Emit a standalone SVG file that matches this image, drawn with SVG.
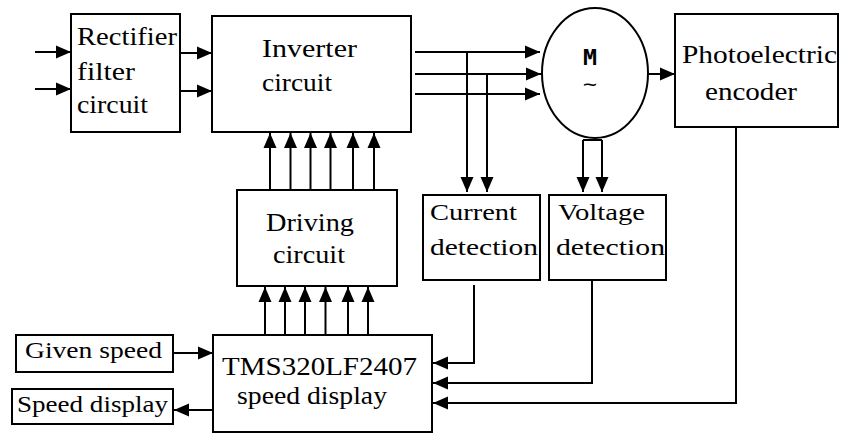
<svg xmlns="http://www.w3.org/2000/svg" width="841" height="434" viewBox="0 0 841 434">
<style>
.box{fill:#fff;stroke:#000;stroke-width:2}
.ln{fill:none;stroke:#000;stroke-width:2}
.t{font-family:"Liberation Serif","Times New Roman",serif;fill:#000;font-size:25px}
.s{font-size:23px}
</style>
<defs>
<marker id="ah" markerUnits="userSpaceOnUse" markerWidth="16" markerHeight="16" viewBox="0 0 16 16" refX="15" refY="8" orient="auto">
<path d="M0,1.5 L15,8 L0,14.5 z" fill="#000"/>
</marker>
</defs>
<rect width="841" height="434" fill="#fff"/>
<g id="connectors" class="ln" marker-end="url(#ah)">
<path d="M35,52 H71"/>
<path d="M35,89 H71"/>
<path d="M180,53 H212"/>
<path d="M180,91 H212"/>
<path d="M415,52 H540"/>
<path d="M415,74 H541"/>
<path d="M415,94 H540"/>
<path d="M467,52 V192"/>
<path d="M487,74 V192"/>
<path d="M583,140 V192"/>
<path d="M602,140 V192"/>
<path d="M583,140 H602" marker-end="none"/>
<path d="M649,74 H675"/>
<path d="M270,190 V133"/>
<path d="M290.5,190 V133"/>
<path d="M310.5,190 V133"/>
<path d="M330.5,190 V133"/>
<path d="M353,190 V133"/>
<path d="M374,190 V133"/>
<path d="M265,335 V287"/>
<path d="M285,335 V287"/>
<path d="M305,335 V287"/>
<path d="M325.5,335 V287"/>
<path d="M348,335 V287"/>
<path d="M368,335 V287"/>
<path d="M474,285 V363 H433"/>
<path d="M592,280 V383 H433"/>
<path d="M736,127 V403 H433"/>
<path d="M173,353 H213"/>
<path d="M213,410 H174"/>
</g>
<g id="rectifier">
<rect class="box" x="71" y="14" width="109" height="118"/>
<text class="t" x="77" y="45" textLength="100" lengthAdjust="spacingAndGlyphs">Rectifier</text>
<text class="t" x="77" y="80" textLength="58" lengthAdjust="spacingAndGlyphs">filter</text>
<text class="t" x="77" y="113" textLength="71" lengthAdjust="spacingAndGlyphs">circuit</text>
</g>
<g id="inverter">
<rect class="box" x="212" y="16" width="199" height="116"/>
<text class="t" x="262" y="57" textLength="95" lengthAdjust="spacingAndGlyphs">Inverter</text>
<text class="t" x="262" y="91" textLength="70" lengthAdjust="spacingAndGlyphs">circuit</text>
</g>
<g id="motor">
<ellipse cx="595" cy="73" rx="53" ry="65" fill="#fff" stroke="#000" stroke-width="2"/>
<text x="583" y="65" font-family="DejaVu Sans Mono,monospace" font-weight="bold" font-size="22" textLength="14" lengthAdjust="spacingAndGlyphs">M</text>
<text x="583" y="91" font-family="DejaVu Sans Mono,monospace" font-size="20" textLength="14" lengthAdjust="spacingAndGlyphs">~</text>
</g>
<g id="encoder">
<rect class="box" x="675" y="14" width="163" height="113"/>
<text class="t" x="682" y="63" textLength="155" lengthAdjust="spacingAndGlyphs">Photoelectric</text>
<text class="t" x="705" y="100" textLength="92" lengthAdjust="spacingAndGlyphs">encoder</text>
</g>
<g id="driving">
<rect class="box" x="237" y="190" width="160" height="96"/>
<text class="t" x="266" y="231" textLength="88" lengthAdjust="spacingAndGlyphs">Driving</text>
<text class="t" x="273" y="263" textLength="72" lengthAdjust="spacingAndGlyphs">circuit</text>
</g>
<g id="current">
<rect class="box" x="423" y="195" width="117" height="85"/>
<text class="t s" x="430" y="220" textLength="87" lengthAdjust="spacingAndGlyphs">Current</text>
<text class="t s" x="430" y="255" textLength="108" lengthAdjust="spacingAndGlyphs">detection</text>
</g>
<g id="voltage">
<rect class="box" x="549" y="195" width="117" height="85"/>
<text class="t s" x="558" y="220" textLength="87" lengthAdjust="spacingAndGlyphs">Voltage</text>
<text class="t s" x="556" y="255" textLength="109" lengthAdjust="spacingAndGlyphs">detection</text>
</g>
<g id="tms">
<rect class="box" x="213" y="335" width="219" height="97"/>
<text class="t" x="222" y="375" textLength="195" lengthAdjust="spacingAndGlyphs">TMS320LF2407</text>
<text class="t" x="237" y="404" textLength="150" lengthAdjust="spacingAndGlyphs">speed display</text>
</g>
<g id="given">
<rect class="box" x="16" y="335" width="157" height="37"/>
<text class="t s" x="25" y="358" textLength="137" lengthAdjust="spacingAndGlyphs">Given speed</text>
</g>
<g id="speeddisplay">
<rect class="box" x="12" y="389" width="161" height="35"/>
<text class="t s" x="17" y="412" textLength="151" lengthAdjust="spacingAndGlyphs">Speed display</text>
</g>
</svg>
